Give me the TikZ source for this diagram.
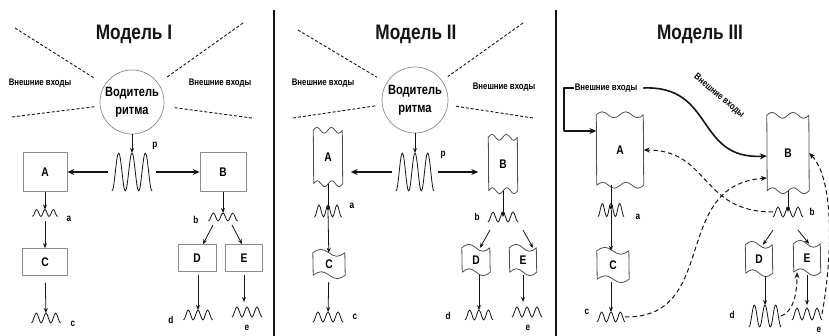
\documentclass[tikz,border=0pt]{standalone}
\usepackage{fontspec}
\setmainfont{Liberation Sans}
\newfontfamily\narrowsans[FakeStretch=0.82]{Liberation Sans}
\usetikzlibrary{arrows.meta,positioning,calc}
\definecolor{Ink}{HTML}{141414}
\definecolor{Frame}{HTML}{8C8C8C}
\definecolor{Edge}{HTML}{505050}
\tikzset{
  ttl/.style={font=\narrowsans\bfseries\fontsize{21}{21}\selectfont,text=Ink},
  pace/.style={circle,draw=Frame,line width=0.7pt,inner sep=0pt,align=center,font=\narrowsans\bfseries\fontsize{13.5}{18}\selectfont},
  inlbl/.style={font=\narrowsans\bfseries\fontsize{9.5}{9.5}\selectfont,inner sep=1pt},
  box/.style={draw=Frame,line width=0.7pt,inner sep=0pt,font=\narrowsans\bfseries\fontsize{12.5}{12.5}\selectfont},
  shp/.style={inner sep=0pt,font=\narrowsans\bfseries\fontsize{12.5}{12.5}\selectfont},
  edge/.style={draw=Edge,line width=0.8pt,line join=round},
  sig/.style={inner sep=0pt,outer sep=0pt},
  sigline/.style={draw=Ink,line width=0.8pt,line join=round},
  lbl/.style={font=\narrowsans\bfseries\fontsize{10}{10}\selectfont,inner sep=0pt},
  arr/.style={-{Stealth[length=5pt,width=4pt]},line width=0.8pt,draw=Ink},
  arrb/.style={-{Stealth[length=7pt,width=6pt]},line width=1.6pt,draw=Ink},
  ray/.style={dash pattern=on 3pt off 2pt,line width=0.9pt,draw=Ink},
  fb/.style={-{Stealth[length=6pt,width=5pt]},dash pattern=on 4.5pt off 3pt,line width=1pt,draw=Ink},
  divider/.style={line width=2pt,draw=Ink},
}
% signal: name, position, width, height, periods
\newcommand{\sigat}[5]{%
  \node[sig,minimum width=#3pt,minimum height=#4pt] (#1) at (#2) {};
  \pgfmathsetmacro\wq{#3/(4*#5)}\pgfmathsetmacro\wa{#4/2}
  \draw[sigline] (#1.south west) \foreach \k in {1,...,#5}{cos ++(\wq,-\wa) sin ++(\wq,-\wa) cos ++(\wq,\wa) sin ++(\wq,\wa)};}
% tape: name, position, width, height, label
\newcommand{\tapeat}[5]{%
  \node[shp,minimum width=#3pt,minimum height=#4pt] (#1) at (#2) {#5};
  \pgfmathsetmacro\wq{#3/8}
  \draw[edge] (#1.north west) \foreach \k in {1,2}{sin ++(\wq,-3) cos ++(\wq,3) sin ++(\wq,3) cos ++(\wq,-3)}
    -- (#1.south east) \foreach \k in {1,2}{sin ++(-\wq,3) cos ++(-\wq,-3) sin ++(-\wq,-3) cos ++(-\wq,3)} -- cycle;}
% flag: name, position, width, height, label
\newcommand{\flagat}[5]{%
  \node[shp,minimum width=#3pt,minimum height=#4pt] (#1) at (#2) {#5};
  \pgfmathsetmacro\wq{#3/4}
  \draw[edge] (#1.north west) sin ++(\wq,-3.5) cos ++(\wq,3.5) sin ++(\wq,3.5) cos ++(\wq,-3.5)
    -- (#1.south east) sin ++(-\wq,3.5) cos ++(-\wq,-3.5) sin ++(-\wq,-3.5) cos ++(-\wq,3.5) -- cycle;}

\begin{document}
\begin{tikzpicture}[x=1pt,y=-1pt,line join=round]
\useasboundingbox[fill=white] (0,0) rectangle (829,336);
\draw[divider] (274,10) -- (274,336);
\draw[divider] (556,10) -- (556,336);

% Model I
\node[ttl] (t1) at (134,34) {Модель I};
\node[pace,minimum size=64pt] (pm1) at (132,102) {Водитель\\ритма};
\node[inlbl] (in1l) at (40,83) {Внешние входы};
\node[inlbl] (in1r) at (220,83) {Внешние входы};
\coordinate (r1a) at (15,28); \coordinate (r1b) at (243,23);
\coordinate (r1c) at (12,117); \coordinate (r1d) at (252,118);
\draw[ray,shorten >=13pt] (r1a) -- (pm1);
\draw[ray,shorten >=10pt] (r1b) -- (pm1);
\draw[ray,shorten >=4pt] (r1c) -- (pm1);
\draw[ray,shorten >=10pt] (r1d) -- (pm1);
\sigat{p1}{132,172}{40}{38}{3}
\draw[arr] (pm1) -- (p1);
\node[lbl] (lp1) at (155,146) {p};
\node[box,minimum width=44pt,minimum height=39pt] (A1) at (45,172) {A};
\node[box,minimum width=46pt,minimum height=39pt] (B1) at (223,172) {B};
\draw[arrb,shorten <=4pt] (p1) -- (A1);
\draw[arrb,shorten <=4pt] (p1) -- (B1);
\sigat{a1}{45,213}{25}{7}{3}
\node[lbl] (la1) at (69,219) {a};
\draw[arr] (A1) -- (a1);
\node[box,minimum width=45pt,minimum height=27pt] (C1) at (45,262) {C};
\draw[arr,shorten <=5pt] (a1) -- (C1);
\sigat{c1}{46,318}{29}{10}{3}
\node[lbl] (lc1) at (73,324) {c};
\draw[arr,shorten <=7pt] (C1) -- (c1);
\sigat{b1}{223,217}{29}{8}{3}
\node[lbl] (lb1) at (196,220) {b};
\draw[arr] (B1) -- (b1);
\node[box,minimum width=38pt,minimum height=27pt] (D1) at (197,258) {D};
\node[box,minimum width=37pt,minimum height=27pt] (E1) at (244,258) {E};
\draw[arr] ($(b1.south)+(-10,4)$) -- ([xshift=6pt]D1.north);
\draw[arr] ($(b1.south)+(9,4)$) -- ([xshift=-2pt]E1.north);
\sigat{d1}{198,315}{29}{10}{3}
\node[lbl] (ld1) at (171,320) {d};
\draw[arr,shorten <=3pt] (D1.south -| d1) -- (d1);
\sigat{e1}{247,312}{30}{10}{3}
\node[lbl] (le1) at (247,328) {e};
\draw[arr,shorten <=3pt,shorten >=5pt] (E1.south) -- (E1.south |- e1.north);

% Model II
\node[ttl] (t2) at (416,34) {Модель II};
\node[pace,minimum size=66pt] (pm2) at (415,100) {Водитель\\ритма};
\node[inlbl] (in2l) at (323,83) {Внешние входы};
\node[inlbl] (in2r) at (504,87) {Внешние входы};
\coordinate (r2a) at (298,30); \coordinate (r2b) at (523,23);
\coordinate (r2c) at (293,118); \coordinate (r2d) at (533,118);
\draw[ray,shorten >=11pt] (r2a) -- (pm2);
\draw[ray,shorten >=7pt] (r2b) -- (pm2);
\draw[ray,shorten >=5pt] (r2c) -- (pm2);
\draw[ray,shorten >=7pt] (r2d) -- (pm2);
\sigat{p2}{415,172}{38}{38}{3}
\draw[arr] (pm2) -- (p2);
\node[lbl] (lp2) at (443,155) {p};
\tapeat{A2}{328,157}{29}{53}{A}
\tapeat{B2}{503,164}{29}{53}{B}
\draw[arrb,shorten <=4pt,shorten >=8pt] (p2.west) -- (p2.west -| A2.east);
\draw[arrb,shorten <=4pt,shorten >=10pt] (p2.east) -- (p2.east -| B2.west);
\sigat{a2}{328,211}{27}{12}{3}
\node[lbl] (la2) at (352,206) {a};
\draw[arr] (A2) -- (a2.center);
\flagat{C2}{329,264}{32}{22}{C}
\draw[arr] (a2.center) -- (C2);
\sigat{c2}{328,317}{30}{10}{3}
\node[lbl] (lc2) at (355,317) {c};
\draw[arr,shorten <=7pt] (C2) -- (c2);
\sigat{b2}{503,217}{30}{10}{3}
\node[lbl] (lb2) at (477,217) {b};
\draw[arr] (B2) -- (b2.center);
\flagat{D2}{476,260}{28}{24}{D}
\flagat{E2}{523,260}{27}{24}{E}
\draw[arr] ($(b2.south)+(-13,8)$) -- ([xshift=4pt]D2.north);
\draw[arr] ($(b2.south)+(20,8)$) -- ([xshift=10pt]E2.north);
\sigat{d2}{479,315}{28}{10}{3}
\node[lbl] (ld2) at (448,316) {d};
\draw[arr,shorten <=3pt] (D2.south -| d2) -- (d2);
\sigat{e2}{527,312}{30}{10}{3}
\node[lbl] (le2) at (528,328) {e};
\draw[arr,shorten <=3pt,shorten >=5pt] (E2.south) -- (E2.south |- e2.north);

% Model III
\node[ttl] (t3) at (700,34) {Модель III};
\node[inlbl] (in3) at (606,88) {Внешние входы};
\node[inlbl,rotate=-40] (in3b) at (719,96) {Внешние входы};
\tapeat{A3}{620,150}{47}{70}{A}
\tapeat{B3}{788,153}{42}{75}{B}
\coordinate (k3) at (564,131);
\draw[arrb,line width=1.4pt] (in3.west) -| (k3) -- (k3 -| A3.west);
\draw[arrb] ([xshift=5pt]in3.east) .. controls (715,85) and (695,160) .. ([yshift=-3pt]B3.west);
\sigat{a3}{611,210}{26}{13}{3}
\node[lbl] (la3) at (638,217) {a};
\draw[arr] (A3.south -| a3) -- (a3.center);
\flagat{C3}{613,265}{32}{28}{C}
\draw[arr] (a3.center) -- (a3.center |- C3.north);
\sigat{c3}{611,317}{28}{10}{3}
\node[lbl] (lc3) at (587,312) {c};
\draw[arr,shorten <=3pt] (C3.south -| c3) -- (c3);
\sigat{b3}{788,212}{30}{10}{3}
\node[lbl] (lb3) at (812,212) {b};
\draw[arr] (B3) -- (b3.center);
\flagat{D3}{759,259}{27}{28}{D}
\flagat{E3}{807,258}{27}{28}{E}
\draw[arr] ($(b3.south)+(-15,13)$) -- ([xshift=4pt]D3.north);
\draw[arr] ($(b3.south)+(10,13)$) -- ([xshift=2pt]E3.north);
\sigat{d3}{765,316}{32}{22}{3}
\node[lbl] (ld3) at (732,315) {d};
\draw[arr,shorten <=3pt] (D3.south -| d3) -- (d3);
\sigat{e3}{807,314}{30}{12}{3}
\node[lbl] (le3) at (819,330) {e};
\draw[arr,shorten <=3pt,shorten >=3pt] (E3.south) -- (E3.south |- e3.north);
% feedback
\draw[fb] (b3.west) .. controls (700,212) and (710,150) .. (A3.east);
\draw[fb] (c3.east) .. controls (720,318) and (670,185) .. ([yshift=-25pt]B3.west);
\draw[fb] (e3.east) .. controls (832,260) and (835,180) .. (B3.east);
\draw[fb] (d3.east) .. controls (793,312) and (797,295) .. ([xshift=-10pt]E3.south);
\end{tikzpicture}
\end{document}
